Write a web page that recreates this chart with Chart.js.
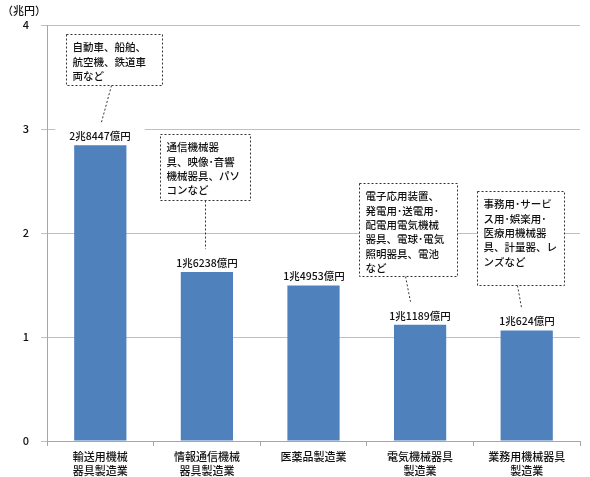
<!DOCTYPE html>
<html>
<head>
<meta charset="utf-8">
<script src="https://cdn.jsdelivr.net/npm/chart.js@4/dist/chart.umd.min.js"></script>
<style>
  html, body { margin: 0; padding: 0; background: #fff; }
  #wrap { width: 590px; height: 477px; position: relative; }
</style>
</head>
<body>
<div id="wrap"><canvas id="chart"></canvas></div>
<script>
// categories (two lines each)
let categories = [
    ["輸送用機械", "器具製造業"],
    ["情報通信機械", "器具製造業"],
    "医薬品製造業",
    ["電気機械器具", "製造業"],
    ["業務用機械器具", "製造業"]
];
// values in 兆円
let values = [2.8447, 1.6238, 1.4953, 1.1189, 1.0624];
let valueLabels = ["2兆8447億円", "1兆6238億円", "1兆4953億円", "1兆1189億円", "1兆624億円"];
let yTicks = [0, 1, 2, 3, 4];
let calloutTexts = [
    ["自動車、船舶、", "航空機、鉄道車", "両など"],
    ["通信機械器", "具、映像･音響", "機械器具、パソ", "コンなど"],
    null,
    ["電子応用装置、", "発電用･送電用･", "配電用電気機械", "器具、電球･電気", "照明器具、電池", "など"],
    ["事務用･サービ", "ス用･娯楽用･", "医療用機械器", "具、計量器、レ", "ンズなど"]
];

const FONT = "'Noto Sans CJK JP', 'Noto Sans', sans-serif";
const TEXT = "#111";

// box layout per bar: offset from bar centre, top (in axis units), size, leader x shifts
const calloutLayout = [
    { dx: 14, top: 3.91, w: 96, h: 51, l1: 11, l2: 1 },
    { dx: -2, top: 2.95, w: 90, h: 66, l1: -2, l2: -2 },
    null,
    { dx: -12, top: 2.48, w: 98, h: 93, l1: -15, l2: -10 },
    { dx: -7, top: 2.40, w: 87, h: 94, l1: -10, l2: -6 }
];

const calloutPlugin = {
    id: "callouts",
    afterDatasetsDraw(chart) {
        let ctx = chart.ctx;
        let meta = chart.getDatasetMeta(0);
        let yScale = chart.scales.y;
        ctx.save();
        ctx.font = "500 10.5px " + FONT;
        ctx.textBaseline = "middle";

        meta.data.forEach((bar, i) => {
            let cx = Math.round(bar.x);
            let labelY = bar.y - 10;

            // value label with white backing (hides gridline)
            let tw = ctx.measureText(valueLabels[i]).width;
            ctx.fillStyle = "#fff";
            ctx.fillRect(cx - tw / 2 - 14, labelY - 7, tw + 28, 14);
            ctx.fillStyle = TEXT;
            ctx.textAlign = "center";
            ctx.fillText(valueLabels[i], cx, labelY + 1);

            let lay = calloutLayout[i];
            let lines = calloutTexts[i];
            if (!lay || !lines) return;

            let bx = Math.round(cx + lay.dx - lay.w / 2) + 0.5;
            let by = Math.round(yScale.getPixelForValue(lay.top)) + 0.5;

            // leader line
            ctx.strokeStyle = "#333";
            ctx.lineWidth = 1;
            ctx.setLineDash([2, 2]);
            ctx.beginPath();
            ctx.moveTo(cx + lay.l1 + 0.5, by + lay.h);
            ctx.lineTo(cx + lay.l2 + 0.5, labelY - 13);
            ctx.stroke();

            // box
            ctx.fillStyle = "#fff";
            ctx.fillRect(bx, by, lay.w, lay.h);
            ctx.strokeRect(bx, by, lay.w, lay.h);
            ctx.setLineDash([]);

            ctx.fillStyle = TEXT;
            ctx.textAlign = "left";
            lines.forEach((t, k) => {
                ctx.fillText(t, bx + 6, by + 13 + k * 14.3);
            });
        });

        // unit label
        ctx.textAlign = "left";
        ctx.font = "500 11px " + FONT;
        ctx.fillStyle = TEXT;
        ctx.fillText("（兆円）", 2, 11);
        ctx.restore();
    }
};

new Chart(document.getElementById("chart"), {
    type: "bar",
    data: {
        labels: categories,
        datasets: [{
            data: values,
            backgroundColor: "#4f81bd",
            categoryPercentage: 1,
            barPercentage: 0.49
        }]
    },
    options: {
        responsive: true,
        maintainAspectRatio: false,
        animation: false,
        layout: { padding: { top: 25, right: 10, left: 0, bottom: 0 } },
        plugins: { legend: { display: false }, tooltip: { enabled: false } },
        scales: {
            x: {
                grid: { offset: true, drawOnChartArea: false, tickLength: 5, color: "#a6a6a6" },
                border: { color: "#a6a6a6" },
                ticks: { font: { family: FONT, size: 11, weight: 500, lineHeight: 1.35 }, color: TEXT, padding: 3, maxRotation: 0 },
                afterFit(scale) { scale.height = 36; }
            },
            y: {
                min: 0,
                max: 4,
                afterBuildTicks(scale) { scale.ticks = yTicks.map(v => ({ value: v })); },
                grid: { color: "#c0c0c0", tickLength: 6 },
                border: { color: "#a6a6a6" },
                ticks: { font: { family: FONT, size: 11, weight: 500 }, color: TEXT, padding: 12 },
                afterFit(scale) { scale.width = 47; }
            }
        }
    },
    plugins: [calloutPlugin]
});
</script>
</body>
</html>
